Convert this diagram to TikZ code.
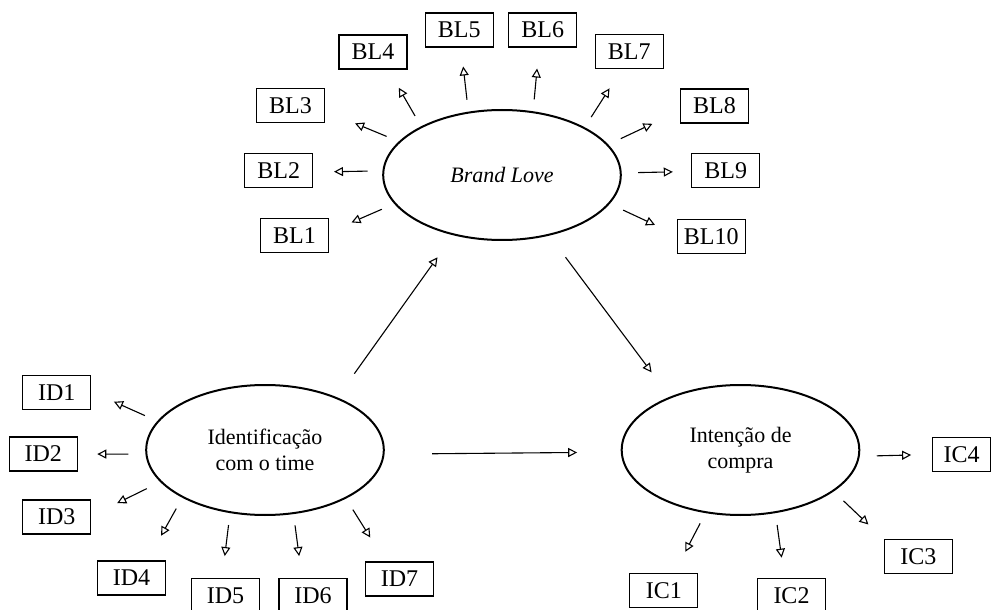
\documentclass[tikz,border=0pt]{standalone}
\usepackage{fontspec}
\setmainfont{Liberation Serif}
\usetikzlibrary{arrows.meta, shapes.geometric}

\begin{document}
\begin{tikzpicture}[x=0.5pt, y=-0.5pt,
    ibox/.style={draw, line width=0.6pt, minimum width=34pt, minimum height=17pt,
                 inner sep=0pt, font=\fontsize{12}{14}\selectfont},
    lvar/.style={draw, ellipse, line width=1pt, minimum width=118.8pt,
                 minimum height=65pt, align=center, font=\fontsize{11}{13}\selectfont},
    myarr/.style={-{Triangle[open,length=4.5pt,width=4.5pt]}, line width=0.55pt},
]
\useasboundingbox (0,0) rectangle (992,610);
\clip (0,0) rectangle (992,610);
%% -- Latent variables --
\node[lvar](love)at(502,175){\itshape Brand Love};
\node[lvar](ident)at(265,450){Identificação\\com o time};
\node[lvar](inten)at(740.5,450){Intenção de\\compra};
%% -- Brand Love indicators --
\node[ibox](bl1)at(294.5,235.8){BL1};
\node[ibox](bl2)at(278.8,170.3){BL2};
\node[ibox](bl3)at(290.5,105.5){BL3};
\node[ibox](bl4)at(373,52){BL4};
\node[ibox](bl5)at(459.2,30){BL5};
\node[ibox](bl6)at(542.8,30){BL6};
\node[ibox](bl7)at(629.2,51.7){BL7};
\node[ibox](bl8)at(714.5,106){BL8};
\node[ibox](bl9)at(725.8,170.3){BL9};
\node[ibox](bl10)at(711.2,236.2){BL10};
%% -- Identificacao indicators --
\node[ibox](id1)at(56.7,392.2){ID1};
\node[ibox](id2)at(43.3,454){ID2};
\node[ibox](id3)at(56.7,517){ID3};
\node[ibox](id4)at(131.5,578){ID4};
\node[ibox](id5)at(225.5,595.3){ID5};
\node[ibox](id6)at(313,595.3){ID6};
\node[ibox](id7)at(399.5,579){ID7};
%% -- Intencao indicators --
\node[ibox](ic1)at(663.8,590.3){IC1};
\node[ibox](ic2)at(791.5,595.3){IC2};
\node[ibox](ic3)at(918.3,556.7){IC3};
\node[ibox,minimum width=29pt](ic4)at(961.7,454.5){IC4};
%% -- Loadings: ellipse angle / box / box angle / gaps --
\foreach \a/\b/\c/\s/\t in {195/bl1/6/6.8/12.2, 178/bl2/357/7.4/10.3,
    162.5/bl3/351.4/6.6/16.2, 149.4/bl4/311.2/6/10.5, 118.4/bl5/276.7/6/9.5,
    64.9/bl6/258.7/6/10.5, 30.1/bl7/247.1/6/11.3, 16.5/bl8/188/6.9/15.2,
    1.6/bl9/182.4/8.2/9.2, 345.7/bl10/178.6/7.4/11.9}{
  \draw[myarr, shorten <=\s pt, shorten >=\t pt](love.\a)--(\b.\c);
}
\foreach \a/\b/\c/\s/\t in {165.5/id1/1.7/6.8/12.4, 182.1/id2/0/8.5/9.7,
    197.2/id3/2.2/7.5/14.4, 210.4/id4/48.2/6.2/14.1, 241.3/id5/101.3/6/10.9,
    294.3/id6/122.4/5.7/10.9, 329.9/id7/129.9/6.5/14.1}{
  \draw[myarr, shorten <=\s pt, shorten >=\t pt](ident.\a)--(\b.\c);
}
\foreach \a/\b/\c/\s/\t in {241.9/ic1/59.8/5.8/11.8, 299.7/ic2/112.9/6/10.1,
    336.4/ic3/153.6/6.8/10.6, 357.9/ic4/180/8.5/10.5}{
  \draw[myarr, shorten <=\s pt, shorten >=\t pt](inten.\a)--(\b.\c);
}
%% -- Paths between constructs --
\draw[myarr, shorten <=14.6pt, shorten >=13.5pt](ident.36.5)--(love.231.4);
\draw[myarr, shorten <=13.5pt, shorten >=15.2pt](love.308.7)--(inten.143.6);
\draw[myarr, shorten <=23.8pt, shorten >=21.8pt](ident.358.4)--(inten.181.6);
\end{tikzpicture}
\end{document}
